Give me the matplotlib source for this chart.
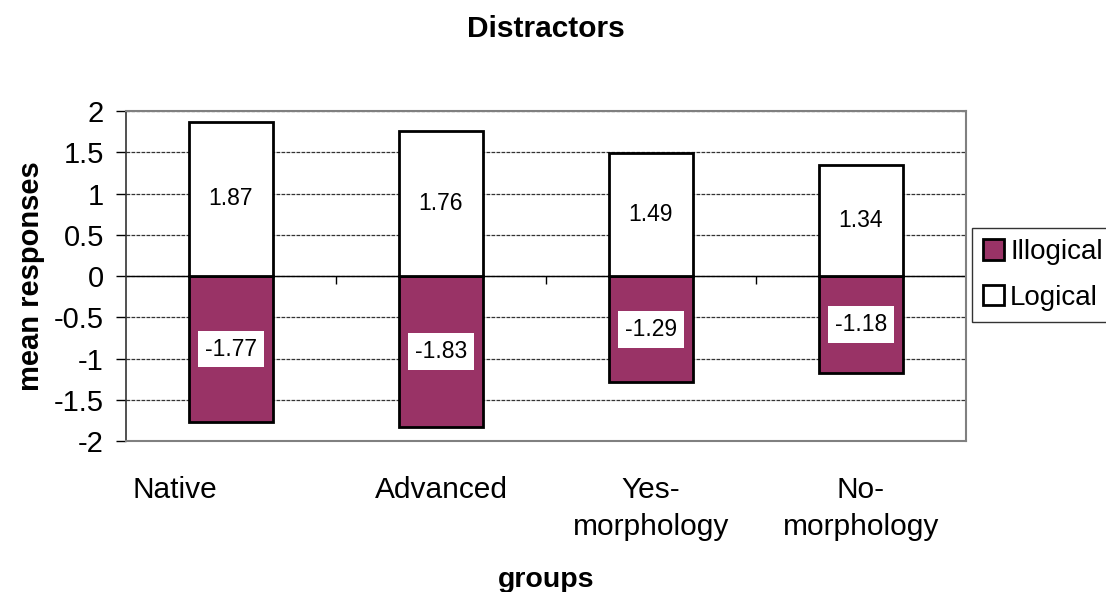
import matplotlib.pyplot as plt
import matplotlib.transforms as mtransforms
import numpy as np

plt.rcParams['font.family'] = ['Liberation Sans', 'DejaVu Sans']

groups = ['Native', 'Advanced', 'Yes-\nmorphology', 'No-\nmorphology']
logical = [1.87, 1.76, 1.49, 1.34]
illogical = [-1.77, -1.83, -1.29, -1.18]

fig = plt.figure(figsize=(11.06, 5.92), dpi=100)
ax = fig.add_axes([0.1139, 0.255, 0.7595, 0.5575])

x = np.arange(len(groups))
w = 0.4

# dashed horizontal gridlines behind the bars
ax.set_axisbelow(True)
ax.yaxis.grid(True, linestyle=(0, (3, 1)), color='#333333', linewidth=0.9)

bars_ill = ax.bar(x, illogical, w, color='#993366', edgecolor='black',
                  linewidth=2, label='Illogical', zorder=3)
bars_log = ax.bar(x, logical, w, color='white', edgecolor='black',
                  linewidth=2, label='Logical', zorder=3)

ax.axhline(0, color='black', linewidth=1, zorder=2)
# category separator ticks on the zero line
bounds = np.arange(len(groups) + 1) - 0.5
ax.vlines(bounds[1:-1], -0.1, 0, color='black', linewidth=1, zorder=2)

for bars, vals in ((bars_log, logical), (bars_ill, illogical)):
    for b, v in zip(bars, vals):
        ax.text(b.get_x() + b.get_width() / 2, v / 2, f'{v:.2f}',
                ha='center', va='center', fontsize=16.5, zorder=4,
                bbox=dict(facecolor='white', edgecolor='none', pad=5))

ax.set_xlim(bounds[0], bounds[-1])
ax.set_ylim(-2, 2)
ax.set_yticks(np.arange(-2, 2.01, 0.5))
ax.set_yticklabels(['-2', '-1.5', '-1', '-0.5', '0', '0.5', '1', '1.5', '2'])
ax.set_xticks(x)
ax.set_xticklabels(groups, linespacing=1.38)
ax.tick_params(axis='x', length=0, pad=25.5, labelsize=21.5)
ax.tick_params(axis='y', direction='out', length=7, width=1, labelsize=21, pad=9)

# the single-line first label sits left of its bar
first = ax.get_xticklabels()[0]
first.set_transform(first.get_transform() +
                    mtransforms.ScaledTranslation(-56 / 100, 0, fig.dpi_scale_trans))

for side in ('top', 'right', 'bottom'):
    ax.spines[side].set_color('#808080')
    ax.spines[side].set_linewidth(1.5)
ax.spines['left'].set_color('#333333')
ax.spines['left'].set_linewidth(1.2)

ax.set_ylabel('mean responses', fontsize=21, fontweight='bold', labelpad=6)
ax.set_xlabel('groups', fontsize=20.5, fontweight='bold', labelpad=18.5)
ax.set_title('Distractors', fontsize=21.5, fontweight='bold', pad=53)

fig.legend(handles=[bars_ill, bars_log], labels=['Illogical', 'Logical'],
           loc='upper left', bbox_to_anchor=(972 / 1106, 1 - 228 / 592),
           fontsize=20, frameon=True, fancybox=False, edgecolor='black',
           handlelength=0.75, handleheight=0.75, handletextpad=0.22,
           borderpad=0.4, labelspacing=0.7, borderaxespad=0)

fig.savefig('out.png', dpi=100)
